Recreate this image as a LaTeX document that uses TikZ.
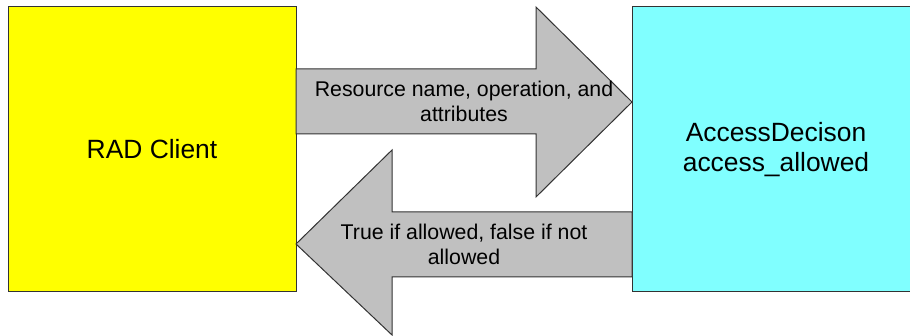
\documentclass[tikz,border=0pt]{standalone}
\usepackage{fontspec}
\setmainfont{Liberation Sans}
\usepackage{tikz}
\usetikzlibrary{positioning}
\usetikzlibrary{calc}
\definecolor{clientyellow}{HTML}{FFFF00}
\definecolor{decisioncyan}{HTML}{80FFFF}
\definecolor{flowgrey}{HTML}{C0C0C0}
\definecolor{edgegrey}{HTML}{333333}
\tikzset{
	box/.style={draw=edgegrey, line width=1pt, rectangle, minimum width=288pt, minimum height=285pt,
		inner sep=0pt, outer sep=0pt, align=center, font=\fontsize{26.4}{30}\selectfont},
	flow/.style={draw=edgegrey, line width=1pt, fill=flowgrey, line join=miter},
	flowtext/.style={align=center, inner sep=0pt, font=\fontsize{21.3}{25}\selectfont},
}

\begin{document}
\begin{tikzpicture}[x=1pt, y=-1pt]
	\useasboundingbox (0,0) rectangle (910,336);
	\node[box, fill=clientyellow] (client) at (152,149.5) {RAD Client};
	\node[box, fill=decisioncyan] (decision) at (776,149.5) {AccessDecison\\access\_allowed};
	
	% request: client -> decision
	\draw[flow] (client.east |- 0,69) -- (536,69) -- (536,7) -- (decision.west |- 0,102)
		-- (536,197) -- (536,134) -- (client.east |- 0,134) -- cycle;
	\node[flowtext] (request) at (464,101) {Resource name, operation, and\\attributes};
	
	% answer: decision -> client
	\draw[flow] (decision.west |- 0,212) -- (392,212) -- (392,150) -- (client.east |- 0,244)
		-- (392,335) -- (392,277) -- (decision.west |- 0,277) -- cycle;
	\node[flowtext] (answer) at (464,244.5) {True if allowed, false if not\\allowed};
\end{tikzpicture}
\end{document}
